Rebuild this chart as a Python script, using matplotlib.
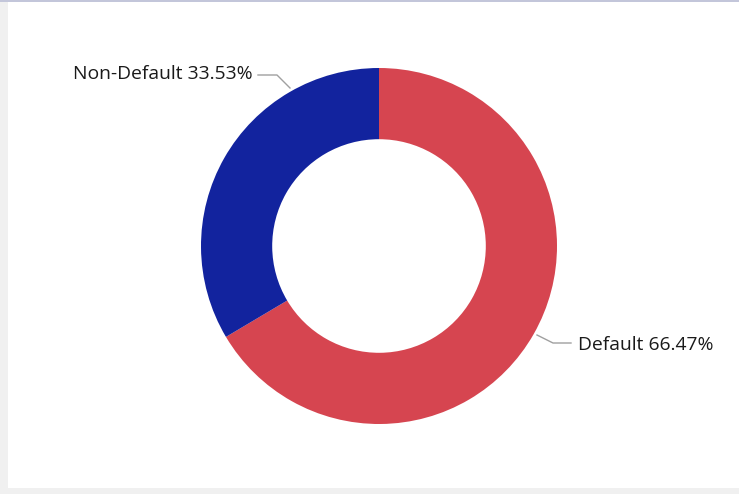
import matplotlib.pyplot as plt
from matplotlib.patches import Rectangle

# data
categories = ['Default', 'Non-Default']
shares = [66.47, 33.53]
colors = ['#D64550', '#12239E']

W, H = 739, 494
CX, CY, R = 379, 246, 178  # donut centre / radius in pixels


def px(x, y):
    # pixel position -> pie data coords (radius 1 = R px)
    return (x - CX) / R, (CY - y) / R


fig = plt.figure(figsize=(W / 100, H / 100), dpi=100)
fig.patch.set_facecolor('white')

# frame bits of the screenshot
fig.add_artist(Rectangle((0, 0), 8 / W, 1, transform=fig.transFigure, color='#f0f0f0', lw=0))
fig.add_artist(Rectangle((0, 0), 1, 6 / H, transform=fig.transFigure, color='#f0f0f0', lw=0))
fig.add_artist(Rectangle((0, 1 - 2 / H), 1, 2 / H, transform=fig.transFigure, color='#c3c6da', lw=0))

ax = fig.add_axes([(CX - R) / W, (H - CY - R) / H, 2 * R / W, 2 * R / H])
ax.pie(shares, colors=colors, startangle=90, counterclock=False, radius=1,
       wedgeprops=dict(width=0.4, linewidth=0))
ax.set_xlim(-1, 1)
ax.set_ylim(-1, 1)
ax.set_aspect('equal')
ax.axis('off')

# label layout: leader points (start, elbow, end) and text anchor, in pixels
layout = {
    'Default': dict(pts=[(537, 335), (553, 343), (571, 343)], text=(578, 345), ha='left'),
    'Non-Default': dict(pts=[(290, 88), (277, 75), (258, 75)], text=(253, 74), ha='right'),
}

for name, val in zip(categories, shares):
    lay = layout[name]
    xs, ys = zip(*[px(*p) for p in lay['pts']])
    ax.plot(xs, ys, color='#a0a0a0', lw=1, clip_on=False)
    tx, ty = px(*lay['text'])
    ax.text(tx, ty, f'{name} {val:.2f}%', ha=lay['ha'], va='center',
            fontsize=13.9, color='#1a1a1a', family='Open Sans', clip_on=False)

fig.savefig('out.png', dpi=100)
